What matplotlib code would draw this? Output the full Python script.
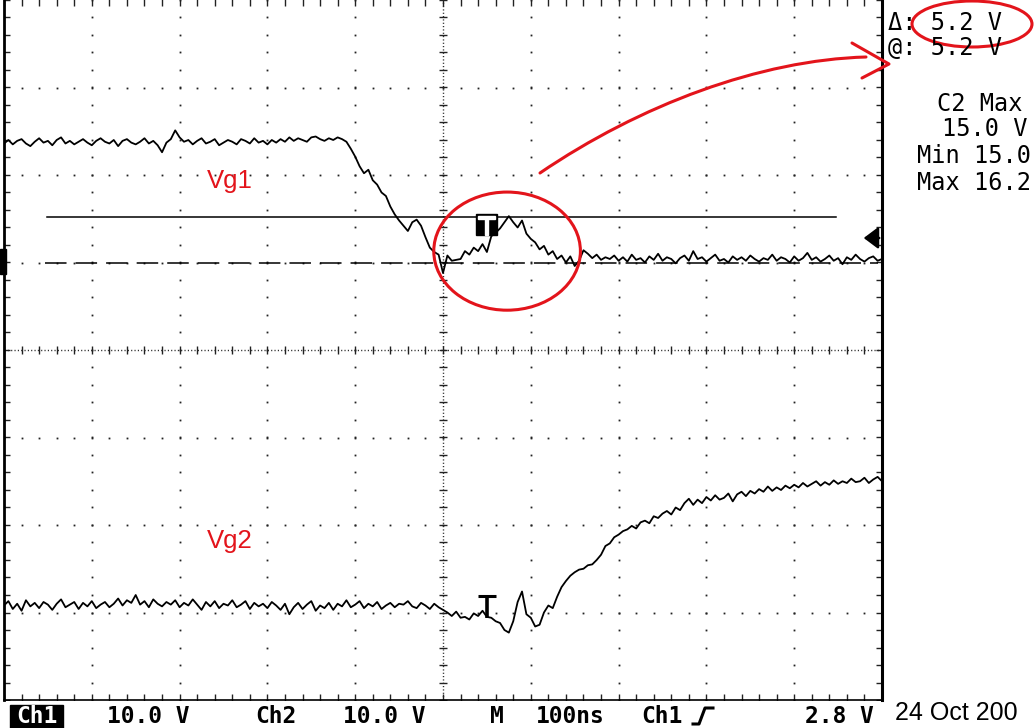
#!/usr/bin/env python3
"""Scope capture: Vg1 / Vg2 gate waveforms with cursor readout and red mark-up."""

import matplotlib
matplotlib.use('Agg')
import matplotlib.pyplot as plt
import matplotlib.transforms as mtransforms
import numpy as np
from matplotlib.patches import Ellipse, Rectangle, PathPatch
from matplotlib.path import Path

plt.rcParams['lines.scale_dashes'] = False
plt.rcParams['font.family'] = 'DejaVu Sans'

RED = '#e3141b'
MONO = 'DejaVu Sans Mono'
SANS = ['Liberation Sans', 'DejaVu Sans']

# ============================================================
# Scope settings
# ============================================================
VOLTS_PER_DIV = 10.0      # both channels
NS_PER_DIV = 100.0
DT_NS = 5.0               # sample spacing of the traces below
CH1_GROUND_DIV = 1.0      # ground marker position of Ch1 (divisions from centre)
CH2_GROUND_DIV = -4.4
TRIG_T_NS = 550.0
TRIG_LEVEL_V = 2.8
CURSOR_A_V = 5.2          # solid cursor on Ch1
CURSOR_B_V = 0.0          # dashed cursor on Ch1
CH2_MARK_V = 15.9         # top of the Ch2 "T" marker

# ============================================================
# Data (volts, one sample every DT_NS)
# ============================================================
ch1_v = [
    13.6, 14.0, 13.5, 13.9, 14.1, 13.6, 13.3, 13.8, 14.2, 13.7, 13.9, 13.4, 14.0, 14.3, 13.6, 13.9, 13.5, 13.8, 14.1, 13.7, 13.4,
    13.9, 14.2, 13.8, 13.6, 14.0, 13.3, 13.9, 14.1, 13.7, 13.5, 13.8, 14.2, 13.6, 13.9, 13.4, 12.6, 13.7, 14.1, 15.1, 14.3,
    13.8, 14.0, 13.5, 13.9, 14.2, 13.6, 13.8, 14.1, 13.4, 13.7, 14.0, 13.8, 13.5, 14.1, 13.9, 13.6, 14.2, 13.7, 13.9, 13.5,
    14.0, 13.7, 14.1, 13.8, 14.3, 13.9, 14.2, 14.0, 13.8, 14.3, 14.4, 14.1, 13.9, 14.2, 14.0, 14.3, 14.1,
    13.8, 13.0, 12.1, 11.0, 10.2, 10.6, 9.4, 8.9, 8.0, 7.6, 6.4, 5.5, 4.8, 4.2, 3.6, 4.6, 4.9, 4.2, 2.9, 1.7,
    1.2, 0.9, -1.2, 0.8, 0.2, 0.3, 0.4, 1.3, 0.9, 1.7, 1.3, 2.1, 1.2, 3.0, 3.4, 3.9, 4.6, 5.3, 4.6, 4.0,
    4.8, 3.3, 2.7, 2.3, 1.5, 1.9, 0.9, 1.3, 0.4, 0.8, 0.0, 0.7, -0.4, 0.2, 1.4, 1.0, 0.5, 0.9, 0.3, 0.6,
    0.4, 0.8, 0.2, 0.6, 0.1, 0.9, 0.3, 0.5, 0.0, 0.7,
    0.3, 1.0, 0.2, 0.6, 0.4, -0.1, 0.5, 0.8, 0.2, 1.3,
    0.4, 0.6, 0.1, 0.5, 0.9, 0.2, 0.4, 0.0, 0.7, 0.3,
    0.6, 0.2, 0.8, 0.4, 0.1, 0.5, 0.3, 0.9, 0.2, 0.6,
    0.4, 0.0, 0.7, 0.2, 0.5, 1.1, 0.3, 0.6, 0.1, 0.4,
    0.8, 0.2, 0.5, -0.2, 0.6, 0.3, 0.9, 0.4, 0.1, 0.5,
    0.7, 0.2, 0.4,
]

ch2_v = [
    14.8, 15.3, 14.4, 15.0, 14.2, 15.4, 14.7, 15.1, 14.5, 15.2, 14.9, 14.3, 15.0, 15.5, 14.6, 14.9, 15.2, 14.4, 15.1, 14.7,
    15.3, 14.5, 14.9, 15.2, 14.6, 15.0, 15.6, 14.8, 15.4, 15.1, 16.0, 14.9, 15.3, 14.6, 15.5, 15.0, 14.7, 15.2, 14.9, 15.4,
    14.6, 15.1, 14.8, 15.5, 14.9, 14.3, 15.2, 14.7, 15.3, 14.5, 15.0, 14.8, 15.4, 14.6, 14.9, 15.3, 14.4, 15.1, 14.7, 15.0,
    14.5, 15.2, 14.8, 14.3, 15.0, 13.8, 14.6, 15.1, 14.4, 14.9, 15.3, 14.2, 14.8, 14.5, 15.1, 14.3, 15.0, 14.7, 15.4, 14.6,
    14.9, 15.3, 14.5, 15.0, 14.7, 15.2, 14.4, 14.8, 15.1, 14.6, 15.0, 14.9, 15.3, 14.7, 14.5, 15.1, 14.8, 14.4, 15.0, 14.6,
    14.3, 14.0, 13.6, 14.1, 13.4, 13.5, 13.2, 13.9, 13.6, 14.2, 13.5, 13.4, 13.0, 12.8, 12.0, 11.7, 13.0, 15.2, 16.4, 13.8,
    13.4, 12.4, 12.6, 14.0, 14.8, 14.5, 15.8, 16.9, 17.6, 18.2, 18.6, 18.9, 19.0, 19.4, 19.5, 20.0, 20.6, 21.6, 21.9, 22.6,
    22.9, 23.3, 23.5, 23.9, 23.6, 24.3, 24.5, 24.2, 25.0, 24.8, 25.3, 25.6, 25.2, 26.0, 25.7, 26.5, 27.0, 26.3, 26.9, 26.5,
    27.2, 26.8, 27.4, 26.9, 27.1, 27.6, 26.7, 27.5, 27.8, 27.3, 27.9, 27.6, 28.1, 27.8, 28.4, 27.9, 28.3, 28.0, 28.5, 28.2,
    28.6, 28.3, 28.8, 28.4, 28.7, 29.0, 28.5, 28.9, 28.6, 29.1, 28.7, 29.0, 28.8, 29.3, 28.9, 29.0, 29.4, 28.8, 29.2, 29.5,
    29.0,
]

# screen readouts
readout_right = ['\u0394: 5.2 V', '@: 5.2 V', 'C2 Max', '15.0 V', 'Min 15.0', 'Max 16.2']
readout_bottom = ['10.0 V', 'Ch2', '10.0 V', 'M', '100ns', 'Ch1', '2.8 V']
date_text = '24 Oct 200'


def ch1_div(v):
    return np.asarray(v) / VOLTS_PER_DIV + CH1_GROUND_DIV


def ch2_div(v):
    return np.asarray(v) / VOLTS_PER_DIV + CH2_GROUND_DIV


t1 = np.arange(len(ch1_v)) * DT_NS
t2 = np.arange(len(ch2_v)) * DT_NS

# ============================================================
# Plot
# ============================================================
W, H = 1036, 728
fig = plt.figure(figsize=(W / 100, H / 100), dpi=100)
fig.patch.set_facecolor('white')

ax = fig.add_axes([4 / W, 28 / H, 878 / W, 700 / H])
ax.set_xlim(0, 10 * NS_PER_DIV)
ax.set_ylim(-4, 4)
ax.set_xticks([])
ax.set_yticks([])
ax.spines['top'].set_visible(False)
ax.spines['left'].set_linewidth(2.0)
ax.spines['right'].set_linewidth(2.2)
ax.spines['bottom'].set_linewidth(1.2)

# graticule: dotted major lines
ys_minor = np.arange(-4, 4.001, 0.2)
xs_minor = np.arange(0, 10 * NS_PER_DIV + 0.1, NS_PER_DIV / 5)
dot = dict(ls='none', marker='s', ms=1.3, mew=0, color='#222222', zorder=1)
for k in range(1, 10):
    if k == 5:
        continue
    ax.plot(np.full_like(ys_minor, k * NS_PER_DIV), ys_minor, **dot)
for k in range(-3, 4):
    if k == 0:
        continue
    ax.plot(xs_minor, np.full_like(xs_minor, k), **dot)

# centre cross with fine dots + ticks
xc = 5 * NS_PER_DIV
ax.plot([xc, xc], [-4, 4], color='#222222', lw=1.0, ls=(0, (0.8, 1.6)), zorder=1)
ax.plot([0, 10 * NS_PER_DIV], [0, 0], color='#222222', lw=1.0, ls=(0, (0.8, 1.6)), zorder=1)
ax.plot(np.full_like(ys_minor, xc), ys_minor, ls='none', marker='_', ms=6, mew=1.0,
        color='#222222', zorder=1)
ax.plot(xs_minor, np.zeros_like(xs_minor), ls='none', marker='|', ms=6, mew=1.0,
        color='#222222', zorder=1)

# border ticks (half of the marker is clipped away, leaving inward ticks)
tick = dict(ls='none', mew=1.0, ms=8, color='#222222', zorder=1)
ax.plot(np.zeros_like(ys_minor), ys_minor, marker='_', **tick)
ax.plot(np.full_like(ys_minor, 10 * NS_PER_DIV), ys_minor, marker='_', **tick)
ax.plot(xs_minor, np.full_like(xs_minor, -4), marker='|', **tick)
ax.plot(xs_minor, np.full_like(xs_minor, 4), marker='|', **tick)

# cursors
ax.plot([49, 948], [ch1_div(CURSOR_A_V)] * 2, color='black', lw=1.1, zorder=3)
ax.plot([47, 995], [ch1_div(CURSOR_B_V)] * 2, color='black', lw=1.1,
        ls=(0, (15.5, 6.5)), zorder=3)

# traces
ax.plot(t1, ch1_div(ch1_v), color='black', lw=1.3, zorder=5)
ax.plot(t2, ch2_div(ch2_v), color='black', lw=1.3, zorder=5)

# Ch1 trigger marker: black block with a white "T"
y_top = ch1_div(5.5)
ax.add_patch(Rectangle((TRIG_T_NS - 12, y_top - 0.24), 23, 0.24, color='black', zorder=6))
ax.add_patch(Rectangle((TRIG_T_NS - 10.5, y_top - 0.05), 20, 0.035, color='white', zorder=7))
ax.add_patch(Rectangle((TRIG_T_NS - 2, y_top - 0.24), 3.5, 0.2, color='white', zorder=7))

# Ch2 trigger marker: black "T"
y2_top = ch2_div(CH2_MARK_V)
ax.plot([TRIG_T_NS - 10, TRIG_T_NS + 10], [y2_top, y2_top], color='black', lw=2.2,
        solid_capstyle='butt', zorder=6)
ax.plot([TRIG_T_NS, TRIG_T_NS], [y2_top, y2_top - 0.25], color='black', lw=2.6,
        solid_capstyle='butt', zorder=6)

# trigger level arrow on the right edge
ax.annotate('', xy=(976, ch1_div(TRIG_LEVEL_V)), xytext=(1000, ch1_div(TRIG_LEVEL_V)),
            arrowprops=dict(arrowstyle='-|>,head_length=0.4,head_width=0.3',
                            color='black', lw=1.8, mutation_scale=22),
            annotation_clip=False, zorder=6)

# Ch1 ground marker on the left edge
blend = mtransforms.blended_transform_factory(ax.transAxes, ax.transData)
ax.add_patch(Rectangle((-0.0046, CH1_GROUND_DIV - 0.13), 0.0068, 0.28, transform=blend,
                       color='black', clip_on=False, zorder=6))

# red circle round the bump
ax.add_patch(Ellipse((573, 1.13), 167, 1.35, fill=False, ec=RED, lw=2.2,
                     clip_on=False, zorder=8))

# ============================================================
# Overlay in pixel units: readouts and hand-drawn mark-up
# ============================================================
ov = fig.add_axes([0, 0, 1, 1], zorder=10)
ov.set_xlim(0, W)
ov.set_ylim(H, 0)
ov.axis('off')
ov.patch.set_alpha(0)

ov.text(207, 181, 'Vg1', color=RED, fontsize=18.5, family=SANS, va='center', ha='left')
ov.text(207, 541, 'Vg2', color=RED, fontsize=18.5, family=SANS, va='center', ha='left')

# curved arrow to the readout
curve = Path([(540, 173), (640, 105), (760, 60), (866, 57)],
             [Path.MOVETO, Path.CURVE4, Path.CURVE4, Path.CURVE4])
ov.add_patch(PathPatch(curve, fill=False, ec=RED, lw=2.2, capstyle='round'))
ov.plot([852, 889, 862], [43, 64, 78], color=RED, lw=2.2, solid_capstyle='round')
ov.add_patch(Ellipse((972, 24), 120, 46, fill=False, ec=RED, lw=2.2, clip_on=False))

# right-hand readout
right_pos = [(888, 23), (888, 48), (937, 104), (942, 129), (917, 156), (917, 183)]
for txt, (x, y) in zip(readout_right, right_pos):
    ov.text(x, y, txt, family=MONO, fontsize=17, va='center', ha='left', color='black')

# bottom readout
ov.add_patch(Rectangle((10, 705), 53, 23, color='black'))
ov.text(36.5, 716.5, 'Ch1', family=MONO, fontsize=16.5, fontweight='bold', color='white',
        va='center', ha='center')
bottom_x = [107, 255, 343, 490, 536, 641, 805]
for txt, x in zip(readout_bottom, bottom_x):
    ov.text(x, 716.5, txt, family=MONO, fontsize=16.5, fontweight='bold', va='center',
            ha='left', color='black')
# rising-edge symbol
ov.plot([693, 699, 705, 713], [724, 724, 708, 708], color='black', lw=2.2)
ov.text(895, 713, date_text, family=SANS, fontsize=18, va='center', ha='left', color='black')

fig.savefig('out.png', dpi=100)
plt.close(fig)
print('Saved: out.png')
